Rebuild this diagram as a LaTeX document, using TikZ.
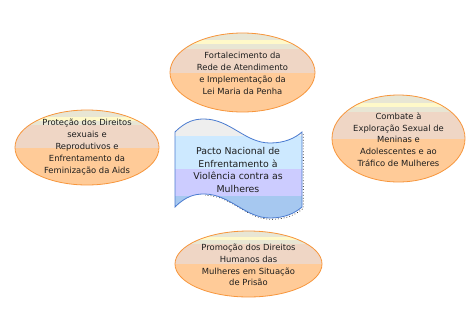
\documentclass[tikz,border=0pt]{standalone}
\usepackage{fontspec}
\setmainfont{DejaVu Sans}
\usetikzlibrary{shapes.geometric,calc,backgrounds}
\definecolor{cream}{HTML}{E8E6D4}
\definecolor{ylw}{HTML}{FFF9C9}
\definecolor{pinkb}{HTML}{EFD6C5}
\definecolor{orng}{HTML}{FFCB98}
\definecolor{oline}{HTML}{F7963C}
\definecolor{wgray}{HTML}{EEEEEE}
\definecolor{wlb}{HTML}{CDE9FF}
\definecolor{wlav}{HTML}{CCCCFF}
\definecolor{wblue}{HTML}{A6C8F0}
\definecolor{wline}{HTML}{4A7BD0}
\definecolor{txt}{HTML}{1E1E1E}
\tikzset{
  goal/.style={ellipse, draw=oline, line width=0.8pt, inner sep=0pt, outer sep=0pt,
    path picture={
      \path (path picture bounding box.north west) coordinate (pw)
            (path picture bounding box.south east) coordinate (pe);
      \fill[orng] (pw) rectangle (pe);
      \fill[cream] let \p1=(pw), \p2=(pe) in (\x1,\y1) rectangle (\x2,{\y1+0.2*(\y2-\y1)});
      \fill[ylw] let \p1=(pw), \p2=(pe) in (\x1,{\y1+0.09*(\y2-\y1)}) rectangle (\x2,{\y1+0.14*(\y2-\y1)});
      \fill[pinkb] let \p1=(pw), \p2=(pe) in (\x1,{\y1+0.2*(\y2-\y1)}) rectangle (\x2,{\y1+0.5*(\y2-\y1)});
    }},
  goaltext/.style={align=center, text=txt, inner sep=0pt, font=\fontsize{8.4}{11.8}\selectfont},
  shadowdots/.style={black, line width=0.7pt, dash pattern=on 0.7pt off 2.2pt},
}
\begin{document}
\begin{tikzpicture}[x=1pt,y=-1pt]
\fill[white] (0,0) rectangle (476,330);
\useasboundingbox (0,0) rectangle (476,330);

% ellipses
\node[goal, minimum width=145pt, minimum height=79pt] (topE) at (242.5,72.5) {};
\node[goal, minimum width=144pt, minimum height=75pt] (leftE) at (87,147.5) {};
\node[goal, minimum width=133pt, minimum height=87pt] (rightE) at (398.5,138.5) {};
\node[goal, minimum width=147pt, minimum height=66pt] (botE) at (248.5,264) {};

\begin{scope}[on background layer]
  \draw[shadowdots] ($(topE.center)+(1.3,1.3)$) ellipse [x radius=72.5pt, y radius=39.5pt];
  \draw[shadowdots] ($(leftE.center)+(1.3,1.3)$) ellipse [x radius=72pt, y radius=37.5pt];
  \draw[shadowdots] ($(rightE.center)+(1.3,1.3)$) ellipse [x radius=66.5pt, y radius=43.5pt];
  \draw[shadowdots] ($(botE.center)+(1.3,1.3)$) ellipse [x radius=73.5pt, y radius=33pt];
\end{scope}

\node[goaltext] (topT) at (242.5,73.5) {Fortalecimento da\\Rede de Atendimento\\e Implementação da\\Lei Maria da Penha};
\node[goaltext] (leftT) at (87,147) {Proteção dos Direitos\\sexuais e\\Reprodutivos e\\Enfrentamento da\\Feminização da Aids};
\node[goaltext] (rightT) at (398.5,139.5) {Combate à\\Exploração Sexual de\\Meninas e\\Adolescentes e ao\\Tráfico de Mulheres};
\node[goaltext] (botT) at (248.5,265) {Promoção dos Direitos\\Humanos das\\Mulheres em Situação\\de Prisão};

% central wave banner
\def\wavepath{(175,132) .. controls (186,121) and (195,119) .. (204,119) .. controls (230,119) and (245,143) .. (270,143) .. controls (285,143) and (295,138) .. (302,132) -- (302,207) .. controls (295,213) and (285,218) .. (270,218) .. controls (245,218) and (230,194) .. (204,194) .. controls (195,194) and (186,196) .. (175,207) -- cycle}
\draw[shadowdots] (303.3,134) -- (303.3,208.3) .. controls (296.3,214.3) and (286.3,219.3) .. (271.3,219.3) .. controls (246.3,219.3) and (231.3,195.3) .. (205.3,195.3);
\begin{scope}
  \clip \wavepath;
  \fill[wgray] (170,110) rectangle (310,136);
  \fill[wlb] (170,136) rectangle (310,169);
  \fill[wlav] (170,169) rectangle (310,196);
  \fill[wblue] (170,196) rectangle (310,225);
\end{scope}
\draw[wline, line width=0.8pt] \wavepath;
\node[align=center, text=txt, inner sep=0pt, font=\fontsize{9.4}{12.7}\selectfont] (pacto) at (238,170) {Pacto Nacional de\\Enfrentamento à\\Violência contra as\\Mulheres};
\end{tikzpicture}
\end{document}
